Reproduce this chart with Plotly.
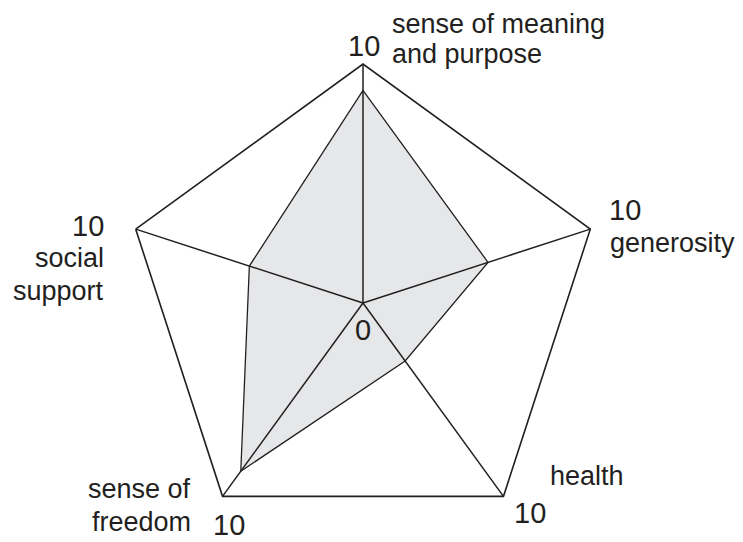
"""Radar chart of the five well-being factors, scored from 0 to 10."""
from __future__ import annotations

import plotly.graph_objects as go

# the page body keeps the browser's default 8px margin, so the figure is
# shrunk by that much and every pixel position below is given in window pixels
WINDOW_WIDTH = 743
WINDOW_HEIGHT = 542
PAGE_MARGIN = 8
WIDTH = WINDOW_WIDTH - PAGE_MARGIN
HEIGHT = WINDOW_HEIGHT - PAGE_MARGIN

CATEGORIES = [
    "sense of meaning and purpose",
    "generosity",
    "health",
    "sense of freedom",
    "social support",
]
SCORES = [8.9, 5.5, 3.0, 8.7, 5.0]
AXIS_RANGE = [0, 10]

LINE_COLOR = "#231f20"
FILL_COLOR = "#e6e7e9"
FONT_FAMILY = "Liberation Sans, Arial, Helvetica, sans-serif"

# polar centre and radius, in window pixels
CENTER_X = 363
CENTER_Y = 303
RADIUS = 239

# one entry per text line: text, x px, y px, xanchor, font size
LABELS = [
    ("10", 347, 46, "left", 29),
    ("sense of meaning", 391, 24, "left", 27),
    ("and purpose", 391, 54, "left", 27),
    ("10", 608, 210, "left", 29),
    ("generosity", 609, 243, "left", 27),
    ("10", 105, 226, "right", 29),
    ("social", 105, 258, "right", 27),
    ("support", 105, 291, "right", 27),
    ("sense of", 192, 489, "right", 27),
    ("freedom", 192, 522, "right", 27),
    ("10", 212, 525, "left", 29),
    ("health", 549, 476, "left", 27),
    ("10", 513, 513, "left", 29),
    ("0", 363, 330, "center", 29),
]


def to_paper(x: float, y: float) -> tuple[float, float]:
    return (x - PAGE_MARGIN) / WIDTH, 1 - (y - PAGE_MARGIN) / HEIGHT


def build_figure() -> go.Figure:
    fig = go.Figure()
    fig.add_trace(
        go.Scatterpolar(
            r=SCORES + SCORES[:1],
            theta=CATEGORIES + CATEGORIES[:1],
            mode="lines",
            fill="toself",
            fillcolor=FILL_COLOR,
            line=dict(color=LINE_COLOR, width=1.3),
            hoverinfo="skip",
            showlegend=False,
        )
    )
    # spokes drawn as traces so they sit on top of the filled area
    for category in CATEGORIES:
        fig.add_trace(
            go.Scatterpolar(
                r=AXIS_RANGE,
                theta=[category, category],
                mode="lines",
                line=dict(color=LINE_COLOR, width=1.5),
                hoverinfo="skip",
                showlegend=False,
            )
        )

    x0, y1 = to_paper(CENTER_X - RADIUS, CENTER_Y - RADIUS)
    x1, y0 = to_paper(CENTER_X + RADIUS, CENTER_Y + RADIUS)
    fig.update_layout(
        width=WIDTH,
        height=HEIGHT,
        margin=dict(l=0, r=0, t=0, b=0),
        paper_bgcolor="white",
        font=dict(family=FONT_FAMILY, color=LINE_COLOR),
        polar=dict(
            domain=dict(x=[x0, x1], y=[max(y0, 0), min(y1, 1)]),
            bgcolor="white",
            gridshape="linear",
            radialaxis=dict(
                range=AXIS_RANGE,
                showgrid=False,
                showline=False,
                showticklabels=False,
                ticks="",
            ),
            angularaxis=dict(
                categoryorder="array",
                categoryarray=CATEGORIES,
                rotation=90,
                direction="clockwise",
                showgrid=False,
                showline=True,
                linecolor=LINE_COLOR,
                linewidth=1.6,
                showticklabels=False,
                ticks="",
            ),
        ),
    )

    for text, x, y, xanchor, size in LABELS:
        px, py = to_paper(x, y)
        fig.add_annotation(
            text=text,
            x=px,
            y=py,
            xref="paper",
            yref="paper",
            xanchor=xanchor,
            yanchor="middle",
            borderpad=0,
            showarrow=False,
            font=dict(size=size, family=FONT_FAMILY, color=LINE_COLOR),
        )
    return fig


def main() -> None:
    fig = build_figure()
    fig.write_html("out.html")


if __name__ == "__main__":
    main()
